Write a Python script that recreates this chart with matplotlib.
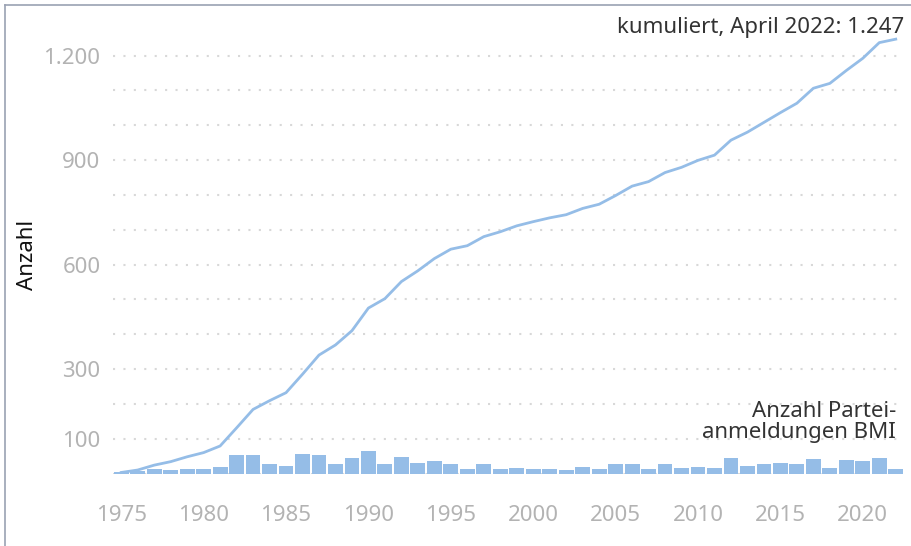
import matplotlib.pyplot as plt
from matplotlib.lines import Line2D
from matplotlib.ticker import FixedLocator, FuncFormatter

plt.rcParams['font.family'] = ['Noto Sans', 'DejaVu Sans']

# yearly registrations (bars) and cumulative total (line)
years = list(range(1975, 2023))
anmeldungen = [3, 7, 13, 10, 13, 13, 19, 52, 53, 27,
               22, 55, 54, 28, 44, 64, 28, 48, 31, 36,
               28, 12, 27, 13, 16, 12, 12, 9, 18, 12,
               27, 27, 13, 27, 15, 19, 15, 44, 21, 27,
               29, 27, 41, 15, 38, 35, 44, 12]
kumuliert = [3, 10, 24, 34, 48, 60, 79, 131, 184, 209,
             232, 285, 340, 369, 410, 475, 502, 551, 582, 617,
             644, 654, 680, 694, 711, 723, 734, 743, 761, 773,
             798, 825, 838, 864, 879, 899, 914, 957, 980, 1008,
             1036, 1063, 1106, 1120, 1157, 1192, 1237, 1247]

y_grid = list(range(0, 1201, 100))
y_labelled = [100, 300, 600, 900, 1200]
x_ticks = list(range(1975, 2021, 5))

blue = "#95bde7"
grey_text = "#b3b3b3"
fs = 16

W, H = 912, 546
fig = plt.figure(figsize=(W / 100, H / 100), dpi=100)
ax = fig.add_axes([113 / W, (H - 473.5) / H, 791 / W, 435.4 / H])

ax.bar(years, anmeldungen, width=0.9, color=blue, zorder=2)
ax.plot(years, kumuliert, color=blue, linewidth=2.0, zorder=3,
        solid_joinstyle='round', clip_on=False)

ax.set_xlim(1974.5, 2022.5)
ax.set_ylim(0, 1250)

# dotted horizontal grid every 100, labels only on some
ax.yaxis.set_major_locator(FixedLocator(y_grid))
ax.yaxis.set_major_formatter(FuncFormatter(
    lambda v, p: f"{int(v):,}".replace(",", ".") if int(v) in y_labelled else ""))
ax.grid(axis='y', linestyle=(0, (1, 4)), linewidth=1.5, color="#d8d8d8", zorder=0)
ax.set_axisbelow(True)

ax.set_xticks(x_ticks)
ax.tick_params(axis='x', length=0, pad=23, labelsize=fs, labelcolor=grey_text)
ax.tick_params(axis='y', length=0, pad=9, labelsize=fs, labelcolor=grey_text)

for s in ax.spines.values():
    s.set_visible(False)

fig.text(28 / W, 1 - 255 / H, "Anzahl", rotation=90, ha='center', va='center',
         fontsize=fs, color="#111111")
fig.text(904 / W, 1 - 27 / H, "kumuliert, April 2022: 1.247", ha='right', va='center',
         fontsize=fs, color="#333333")
fig.text(896 / W, 1 - 422 / H, "Anzahl Partei-\nanmeldungen BMI", ha='right', va='center',
         fontsize=fs, color="#333333", linespacing=0.95)

# frame lines at the top and left edge of the picture
fig.add_artist(Line2D([5.5 / W, 5.5 / W], [0, 1 - 4.5 / H], transform=fig.transFigure,
                      color="#9aa2b3", linewidth=1.2))
fig.add_artist(Line2D([5.5 / W, 1], [1 - 4.5 / H, 1 - 4.5 / H], transform=fig.transFigure,
                      color="#9aa2b3", linewidth=1.2))

fig.savefig("out.png", dpi=100)
